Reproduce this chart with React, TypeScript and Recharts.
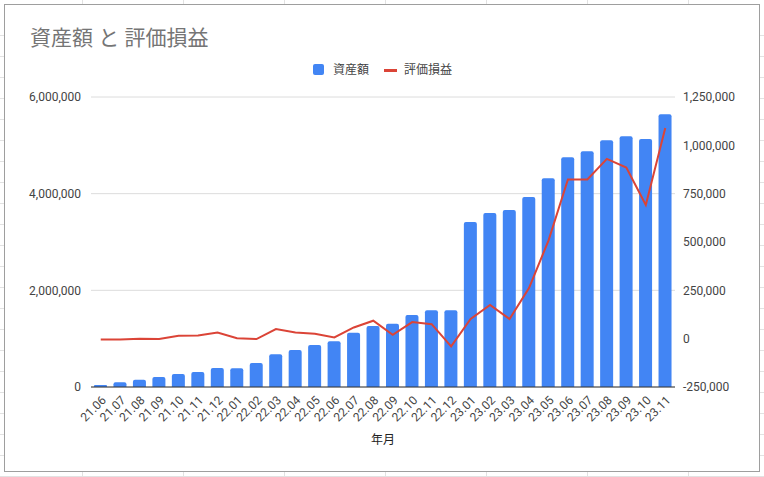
import React from 'react';
import { ComposedChart, Bar, Line, XAxis, YAxis, CartesianGrid } from 'recharts';

const categories = ['21.06','21.07','21.08','21.09','21.10','21.11','21.12','22.01','22.02','22.03','22.04','22.05','22.06','22.07','22.08','22.09','22.10','22.11','22.12','23.01','23.02','23.03','23.04','23.05','23.06','23.07','23.08','23.09','23.10','23.11'];
const assets = [40000, 100000, 150000, 207000, 269000, 310000, 393000, 390000, 497000, 677000, 765000, 870000, 948000, 1120000, 1260000, 1311000, 1490000, 1590000, 1590000, 3413000, 3600000, 3660000, 3930000, 4320000, 4755000, 4880000, 5105000, 5190000, 5130000, 5645000];
const profit = [-4000, -4000, 0, -2000, 15000, 16000, 32000, 2000, -2000, 50000, 32000, 25000, 6000, 58000, 93000, 20000, 86000, 75000, -40000, 102000, 174000, 102000, 262000, 507000, 823000, 823000, 930000, 885000, 692000, 1090000];
const leftTicks = [0, 2000000, 4000000, 6000000];
const rightTicks = [-250000, 0, 250000, 500000, 750000, 1000000, 1250000];

const data = categories.map((c, i) => ({ month: c, assets: assets[i], profit: profit[i] }));

const FONT = "Roboto, 'Noto Sans CJK JP', sans-serif";
const fmt = (v: number) => v.toLocaleString('en-US');

const XTick = (props: any) => {
  const { x, y, payload } = props;
  return (
    <g transform={`translate(${x + 3},${y + 11})`}>
      <text x={0} y={0} dy="0.35em" textAnchor="end" fill="#444" fontSize={12} fontFamily={FONT} transform="rotate(-45)">
        {payload.value}
      </text>
    </g>
  );
};

export default function App() {
  return (
    <div style={{ position: 'absolute', left: 0, top: 0, width: 764, height: 477, overflow: 'hidden', background: '#fff', fontFamily: FONT }}>
      <div style={{ position: 'absolute', inset: 0,
        backgroundImage: 'repeating-linear-gradient(to bottom, transparent 0px, transparent 20px, #e2e2e2 20px, #e2e2e2 21px), repeating-linear-gradient(to right, transparent 0px, transparent 100px, #e2e2e2 100px, #e2e2e2 101px)',
        backgroundPosition: '0px 15px, -18px 0px' }} />
      <div style={{ position: 'absolute', left: 4, top: 4, width: 756, height: 468, boxSizing: 'border-box', border: '1px solid #9e9e9e', background: '#fff' }} />
      <div style={{ position: 'absolute', left: 30, top: 25, fontSize: 21, color: '#757575', whiteSpace: 'nowrap', lineHeight: '26px' }}>資産額 と 評価損益</div>
      <div style={{ position: 'absolute', left: 0, top: 62, width: 764, height: 16, fontSize: 12, color: '#444' }}>
        <div style={{ position: 'absolute', left: 313, top: 2, width: 11, height: 11, borderRadius: 2, background: '#4285F4' }} />
        <div style={{ position: 'absolute', left: 333, top: 0, lineHeight: '16px', whiteSpace: 'nowrap' }}>資産額</div>
        <div style={{ position: 'absolute', left: 384, top: 7, width: 13, height: 3, background: '#DB4437' }} />
        <div style={{ position: 'absolute', left: 404, top: 0, lineHeight: '16px', whiteSpace: 'nowrap' }}>評価損益</div>
      </div>
      <div style={{ position: 'absolute', left: 0, top: 0 }}>
        <ComposedChart width={764} height={477} data={data} margin={{ top: 97, right: 0, bottom: 20, left: 0 }}>
          <CartesianGrid yAxisId="left" vertical={false} stroke="#dcdcdc" horizontalValues={leftTicks} />
          <XAxis dataKey="month" height={70} tick={<XTick />} tickLine={false} tickSize={0} tickMargin={0} interval={0}
            axisLine={{ stroke: '#333', strokeWidth: 1 }}
            label={{ value: '年月', position: 'insideBottom', offset: 13, fill: '#222', fontSize: 12, fontFamily: FONT }} />
          <YAxis yAxisId="left" orientation="left" width={91} domain={[0, 6000000]} ticks={leftTicks} tickFormatter={fmt}
            axisLine={false} tickLine={false} tickSize={6} tickMargin={4} tick={{ fill: '#444', fontSize: 12, fontFamily: FONT }} />
          <YAxis yAxisId="right" orientation="right" width={89} domain={[-250000, 1250000]} ticks={rightTicks} tickFormatter={fmt}
            axisLine={false} tickLine={false} tickSize={6} tickMargin={2} tick={{ fill: '#444', fontSize: 12, fontFamily: FONT }} />
          <Bar yAxisId="left" dataKey="assets" fill="#4285F4" barSize={13} radius={[2, 2, 0, 0]} isAnimationActive={false} />
          <Line yAxisId="right" dataKey="profit" stroke="#DB4437" strokeWidth={2} dot={false} activeDot={false} isAnimationActive={false} />
        </ComposedChart>
      </div>
    </div>
  );
}
